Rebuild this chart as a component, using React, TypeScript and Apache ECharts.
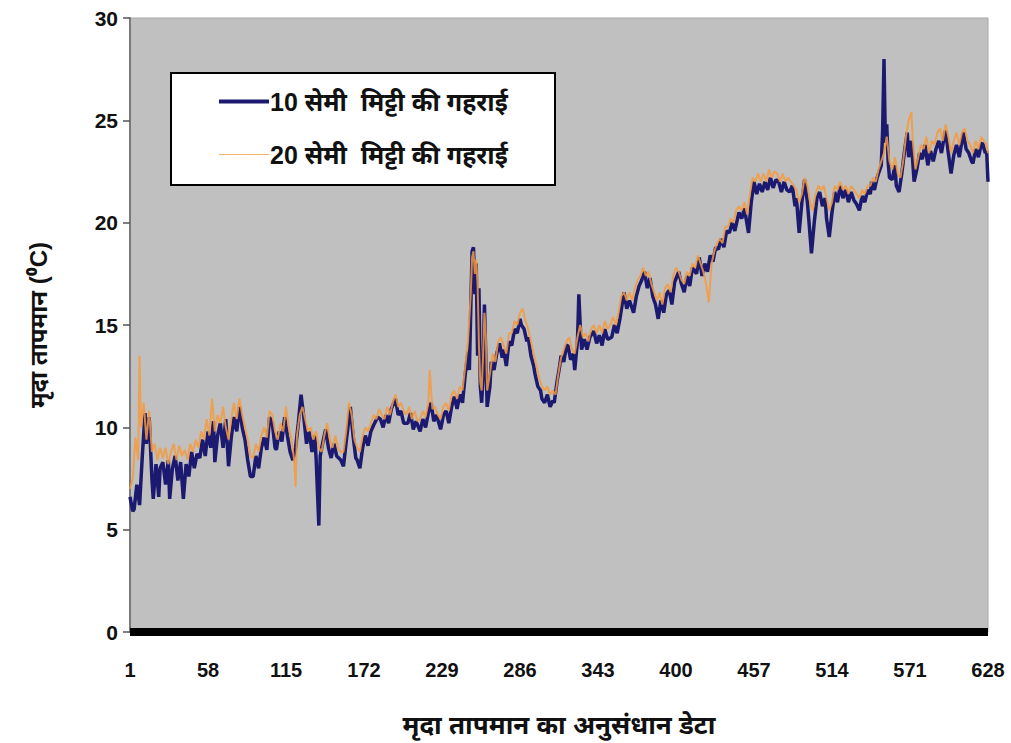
import React, { useEffect, useRef } from "react";
import * as echarts from "echarts";

// x-axis tick labels (data index, 1-based)
const xTickLabels = [1, 58, 115, 172, 229, 286, 343, 400, 457, 514, 571, 628];
const yTicks = [0, 5, 10, 15, 20, 25, 30];

const seriesNames = ["10 सेमी  मिट्टी की गहराई", "20 सेमी  मिट्टी की गहराई"];
const xTitle = "मृदा तापमान का अनुसंधान डेटा";
const yTitle = "मृदा तापमान (⁰C)";

// [data index (1-based), temperature °C] – 10 cm depth
const depth10cm: [number, number][] = [
  [1,6.6],[3,5.9],[4,6.0],[6,7.2],[8,6.2],[10,8.6],[12,10.7],[13,9.2],[15,10.5],[17,7.5],[18,6.5],[20,8.2],[22,6.6],[23,8.0],[25,8.3],[27,7.2],[29,8.4],[30,6.5],[32,8.0],[34,8.6],[36,7.4],[38,8.3],[40,6.5],[42,8.2],[44,7.6],[46,8.8],[48,8.0],[50,8.7],[52,8.5],[54,9.4],[56,8.6],[58,9.8],[60,9.0],[62,10.3],[63,8.3],[65,9.6],[67,10.2],[69,9.0],[71,10.4],[73,8.1],[75,9.5],[77,10.5],[79,9.8],[81,11.0],[83,10.0],[85,9.4],[87,8.4],[89,7.6],[91,7.6],[93,8.6],[95,8.0],[97,9.0],[99,9.5],[101,8.9],[103,10.5],[105,10.2],[107,9.0],[108,8.9],[110,9.8],[112,9.3],[114,10.5],[116,9.6],[118,8.8],[120,8.4],[122,9.0],[124,10.2],[126,11.6],[128,10.5],[130,9.2],[132,9.8],[134,8.8],[136,9.6],[137,8.5],[139,5.2],[140,8.6],[142,9.3],[144,9.9],[146,9.0],[148,8.5],[150,9.2],[152,8.6],[155,8.4],[157,8.1],[159,9.3],[161,10.4],[162,11.0],[164,9.6],[166,8.5],[167,8.4],[169,8.0],[171,9.0],[173,9.6],[175,9.1],[177,9.8],[179,10.1],[182,10.5],[184,10.4],[186,10.0],[188,10.6],[190,10.2],[192,10.9],[195,11.4],[197,10.6],[199,10.8],[201,10.2],[204,10.2],[206,10.7],[208,9.9],[210,10.3],[213,9.8],[215,10.4],[217,10.0],[219,10.7],[221,11.2],[223,10.3],[225,10.6],[228,9.9],[230,10.6],[232,10.8],[234,10.2],[236,11.0],[238,11.5],[240,10.9],[242,11.6],[244,11.2],[246,12.6],[248,13.7],[249,12.8],[251,18.6],[252,18.8],[253,16.5],[254,18.0],[255,13.5],[256,16.8],[257,12.0],[258,11.2],[259,12.5],[260,16.0],[261,13.5],[262,11.0],[264,12.0],[265,13.2],[267,12.8],[269,13.6],[271,14.1],[273,13.4],[274,13.8],[276,13.0],[278,14.2],[280,14.0],[282,14.8],[284,14.6],[286,15.3],[287,15.0],[289,14.8],[291,14.2],[292,14.4],[294,13.5],[296,13.0],[297,12.6],[299,12.0],[301,11.8],[302,11.4],[304,11.2],[306,11.6],[308,11.0],[310,11.3],[311,11.2],[313,12.2],[315,13.0],[316,13.5],[318,13.2],[320,14.0],[321,14.0],[323,13.3],[325,13.6],[326,12.8],[328,14.2],[329,16.5],[330,15.0],[331,13.8],[333,14.3],[335,13.8],[337,14.4],[340,14.7],[342,14.1],[344,14.5],[346,14.0],[348,14.8],[350,14.3],[353,14.4],[355,15.0],[357,14.6],[359,15.3],[362,16.6],[364,15.8],[366,16.2],[369,15.6],[371,16.4],[373,16.9],[375,17.2],[377,17.6],[379,16.8],[381,17.3],[383,16.4],[385,16.0],[387,15.3],[389,16.2],[391,15.6],[393,16.5],[395,16.7],[397,16.0],[399,17.1],[402,17.6],[404,17.0],[406,16.6],[408,17.4],[410,16.9],[412,17.8],[415,17.5],[417,18.3],[419,17.4],[421,18.0],[423,17.6],[425,18.4],[427,18.1],[429,18.8],[431,18.7],[433,19.2],[435,18.8],[437,19.6],[439,19.5],[441,20.0],[443,19.6],[446,20.5],[448,20.2],[450,20.7],[453,19.5],[455,21.0],[457,22.0],[459,21.4],[461,21.9],[463,21.5],[465,22.0],[467,21.6],[469,22.2],[471,21.7],[473,22.1],[475,22.0],[477,21.5],[479,22.0],[481,21.6],[483,21.5],[485,21.8],[487,20.8],[488,21.2],[490,19.5],[492,21.0],[494,22.1],[496,21.0],[497,20.2],[499,18.5],[501,20.0],[503,21.2],[505,21.5],[507,20.8],[509,21.2],[510,20.2],[512,19.3],[514,20.5],[516,21.5],[518,21.0],[520,21.8],[522,21.2],[524,21.6],[526,21.0],[528,21.5],[530,21.1],[532,20.9],[534,20.6],[536,21.3],[538,21.0],[540,21.6],[542,21.4],[543,22.0],[545,21.6],[547,22.2],[548,22.4],[550,22.8],[551,24.5],[552,28.0],[553,23.9],[554,24.8],[555,23.0],[556,22.2],[558,22.1],[560,22.8],[561,21.8],[563,21.5],[565,22.4],[567,23.5],[569,24.4],[570,23.2],[572,24.0],[574,22.0],[576,22.6],[578,23.4],[580,23.1],[582,23.8],[584,22.8],[586,23.5],[588,23.0],[590,23.6],[592,24.0],[594,23.4],[596,24.2],[597,24.5],[599,23.4],[601,22.4],[603,23.3],[605,23.8],[607,23.2],[609,24.0],[610,24.4],[612,23.6],[614,23.4],[616,23.0],[617,22.9],[619,23.6],[621,23.2],[623,23.8],[624,23.9],[626,23.4],[627,23.5],[628,22.0]
];

// [data index (1-based), temperature °C] – 20 cm depth
const depth20cm: [number, number][] = [
  [1,7.0],[3,7.5],[5,9.5],[7,8.4],[8,13.5],[9,10.0],[11,11.2],[13,9.4],[15,10.8],[17,8.8],[19,9.2],[21,8.4],[23,9.0],[25,8.5],[27,9.0],[29,8.2],[31,8.8],[33,9.2],[35,8.4],[37,9.1],[39,8.6],[41,8.9],[43,8.4],[45,9.2],[47,8.8],[49,9.4],[51,9.0],[53,9.8],[55,9.4],[57,10.4],[59,9.6],[61,11.4],[63,9.8],[65,10.6],[67,10.2],[69,11.0],[71,10.0],[73,9.4],[75,10.4],[77,11.2],[79,10.4],[81,11.4],[83,10.6],[85,10.0],[87,9.4],[89,8.6],[91,8.5],[93,9.2],[95,8.8],[97,9.6],[99,10.0],[101,9.5],[103,10.8],[105,10.6],[107,9.8],[109,9.4],[111,10.2],[113,9.8],[115,11.0],[117,10.0],[119,9.4],[121,8.4],[122,7.1],[123,9.6],[125,10.6],[127,11.0],[129,10.4],[131,9.8],[133,10.0],[135,9.4],[137,9.8],[139,9.0],[141,8.8],[143,9.6],[145,10.2],[147,9.4],[149,9.0],[151,9.6],[153,9.0],[155,8.8],[157,8.8],[159,9.8],[161,11.2],[163,10.6],[165,9.4],[167,9.0],[169,8.8],[171,9.6],[173,10.0],[175,9.8],[177,10.2],[179,10.6],[181,10.4],[183,10.9],[185,10.6],[187,10.4],[189,11.0],[191,10.6],[193,11.2],[195,11.6],[197,11.0],[199,11.2],[201,10.8],[203,10.6],[205,11.0],[207,10.4],[209,10.8],[211,10.3],[213,10.4],[215,10.8],[217,10.5],[219,11.2],[220,12.8],[222,10.9],[224,11.0],[226,10.6],[228,10.4],[230,11.0],[232,11.2],[234,10.8],[236,11.6],[238,11.8],[240,11.4],[242,12.0],[244,11.8],[246,13.0],[248,14.2],[250,16.5],[251,18.3],[252,18.6],[253,17.5],[254,18.2],[255,17.0],[256,14.0],[257,12.2],[258,11.8],[259,13.5],[260,15.6],[261,14.5],[262,11.8],[264,12.6],[266,13.6],[268,13.2],[270,14.2],[272,14.4],[274,14.0],[276,13.6],[278,14.6],[280,14.6],[282,15.2],[284,15.0],[286,15.6],[288,15.8],[290,15.2],[292,14.8],[294,14.2],[296,13.6],[298,13.0],[300,12.4],[302,12.0],[304,11.8],[306,12.0],[308,11.6],[310,11.8],[312,11.6],[314,12.6],[316,13.4],[318,13.8],[320,14.2],[322,14.4],[324,13.8],[326,13.6],[328,14.4],[330,15.0],[332,14.4],[334,14.6],[336,14.2],[338,14.8],[340,15.0],[342,14.6],[344,15.0],[346,14.6],[348,15.2],[350,14.8],[352,15.0],[354,15.4],[356,15.0],[358,15.6],[360,16.4],[362,16.6],[364,16.2],[366,16.6],[368,16.2],[370,16.8],[372,17.2],[374,17.4],[376,17.8],[378,17.4],[380,17.6],[382,17.0],[384,16.6],[386,16.2],[388,16.6],[390,16.0],[392,16.8],[394,17.0],[396,16.6],[398,17.4],[400,17.8],[402,17.6],[404,17.2],[406,17.0],[408,17.6],[410,17.4],[412,18.0],[414,17.8],[416,18.4],[418,18.0],[420,17.6],[422,17.0],[424,16.1],[426,18.0],[428,18.6],[430,19.0],[432,19.2],[434,19.0],[436,19.8],[438,19.8],[440,20.2],[442,20.0],[444,20.6],[446,20.8],[448,20.6],[450,21.0],[452,20.4],[454,21.4],[456,22.2],[458,22.0],[460,22.4],[462,22.0],[464,22.4],[466,22.0],[468,22.6],[470,22.2],[472,22.5],[474,22.4],[476,22.0],[478,22.4],[480,22.0],[482,22.2],[484,22.0],[486,21.8],[488,21.6],[490,21.0],[492,21.4],[494,22.2],[496,21.8],[498,21.0],[500,20.6],[502,21.4],[504,21.8],[506,21.6],[508,21.8],[510,21.2],[512,20.6],[514,21.0],[516,21.8],[518,21.6],[520,22.0],[522,21.6],[524,21.8],[526,21.4],[528,21.8],[530,21.6],[532,21.4],[534,21.2],[536,21.6],[538,21.4],[540,21.8],[542,21.8],[544,22.2],[546,22.0],[548,22.6],[550,23.0],[552,23.4],[554,24.2],[556,23.0],[558,22.6],[560,23.2],[562,22.4],[564,22.2],[566,23.0],[568,24.2],[570,25.0],[572,25.4],[573,24.0],[575,22.6],[577,23.2],[579,23.8],[581,23.6],[583,24.2],[585,23.4],[587,24.0],[589,23.8],[591,24.4],[593,24.6],[595,24.0],[597,24.8],[599,24.2],[601,23.4],[603,24.0],[605,24.4],[607,23.8],[609,24.4],[611,24.6],[613,24.0],[615,23.8],[617,23.4],[619,24.0],[621,23.6],[623,24.2],[625,24.0],[627,23.8],[628,23.4]
];

const FONT = "Arial, 'Liberation Sans', 'Noto Sans', sans-serif";
const NAVY = "#1b1a70";
const ORANGE = "#f59a3c";

export default function App() {
  const ref = useRef<HTMLDivElement>(null);

  useEffect(() => {
    if (!ref.current) return;
    const chart = echarts.init(ref.current, null, { renderer: "svg" });
    const toXY = (arr: [number, number][]) => arr.map(([i, v]) => [i - 1, v]);
    const first = xTickLabels[0];
    const step = xTickLabels[1] - xTickLabels[0];
    const last = xTickLabels[xTickLabels.length - 1];

    chart.setOption({
      animation: false,
      backgroundColor: "#ffffff",
      grid: {
        left: 130,
        right: 23,
        top: 18,
        bottom: 110,
        show: true,
        backgroundColor: "#c0c0c0",
        borderColor: "#a8a8a8",
        borderWidth: 1,
      },
      graphic: [
        {
          type: "rect",
          left: 170,
          top: 72,
          shape: { width: 384, height: 112 },
          style: { fill: "#ffffff", stroke: "#000000", lineWidth: 2 },
          z: 10,
        },
      ],
      legend: {
        orient: "vertical",
        left: 214,
        top: 84,
        itemGap: 28,
        itemWidth: 50,
        itemHeight: 4,
        z: 20,
        data: [
          { name: seriesNames[0], icon: "rect", itemStyle: { color: NAVY } },
          {
            name: seriesNames[1],
            icon: "path://M0,0h50v0.05h-50zM0,1.4h50v1.2h-50zM0,3.95h50v0.05h-50z",
            itemStyle: { color: "#f7b46a" },
          },
        ],
        textStyle: {
          fontFamily: FONT,
          fontWeight: "bold",
          fontSize: 25,
          color: "#111",
          padding: [0, 0, 0, -4],
        },
      },
      xAxis: {
        type: "value",
        min: first - 1,
        max: last - 1,
        interval: step,
        name: xTitle,
        nameLocation: "middle",
        nameGap: 80,
        nameTextStyle: { fontFamily: FONT, fontWeight: "bold", fontSize: 26, color: "#111" },
        axisLine: { show: true, onZero: false, lineStyle: { color: "#000", width: 8, cap: "butt" } },
        axisTick: { show: false },
        splitLine: { show: false },
        axisLabel: {
          margin: 28,
          fontFamily: FONT,
          fontWeight: "bold",
          fontSize: 20,
          color: "#111",
          formatter: (v: number) => String(v + 1),
        },
      },
      yAxis: {
        type: "value",
        min: yTicks[0],
        max: yTicks[yTicks.length - 1],
        interval: yTicks[1] - yTicks[0],
        name: yTitle,
        nameLocation: "middle",
        nameGap: 80,
        nameTextStyle: { fontFamily: FONT, fontWeight: "bold", fontSize: 24, color: "#111" },
        axisLine: { show: true, lineStyle: { color: "#7a7a7a", width: 2 } },
        axisTick: { show: true, length: 7, lineStyle: { color: "#555", width: 1.5 } },
        splitLine: { show: false },
        axisLabel: {
          margin: 12,
          fontFamily: FONT,
          fontWeight: "bold",
          fontSize: 21,
          color: "#111",
        },
      },
      series: [
        {
          name: seriesNames[0],
          type: "line",
          data: toXY(depth10cm),
          symbol: "none",
          color: NAVY,
          lineStyle: { color: NAVY, width: 3.5 },
          z: 2,
        },
        {
          name: seriesNames[1],
          type: "line",
          data: toXY(depth20cm),
          symbol: "none",
          color: ORANGE,
          lineStyle: { color: ORANGE, width: 2, opacity: 0.85 },
          z: 3,
        },
      ],
    });

    return () => chart.dispose();
  }, []);

  return (
    <div
      ref={ref}
      style={{ position: "absolute", left: 0, top: 0, width: 1011, height: 743, background: "#fff" }}
    />
  );
}
